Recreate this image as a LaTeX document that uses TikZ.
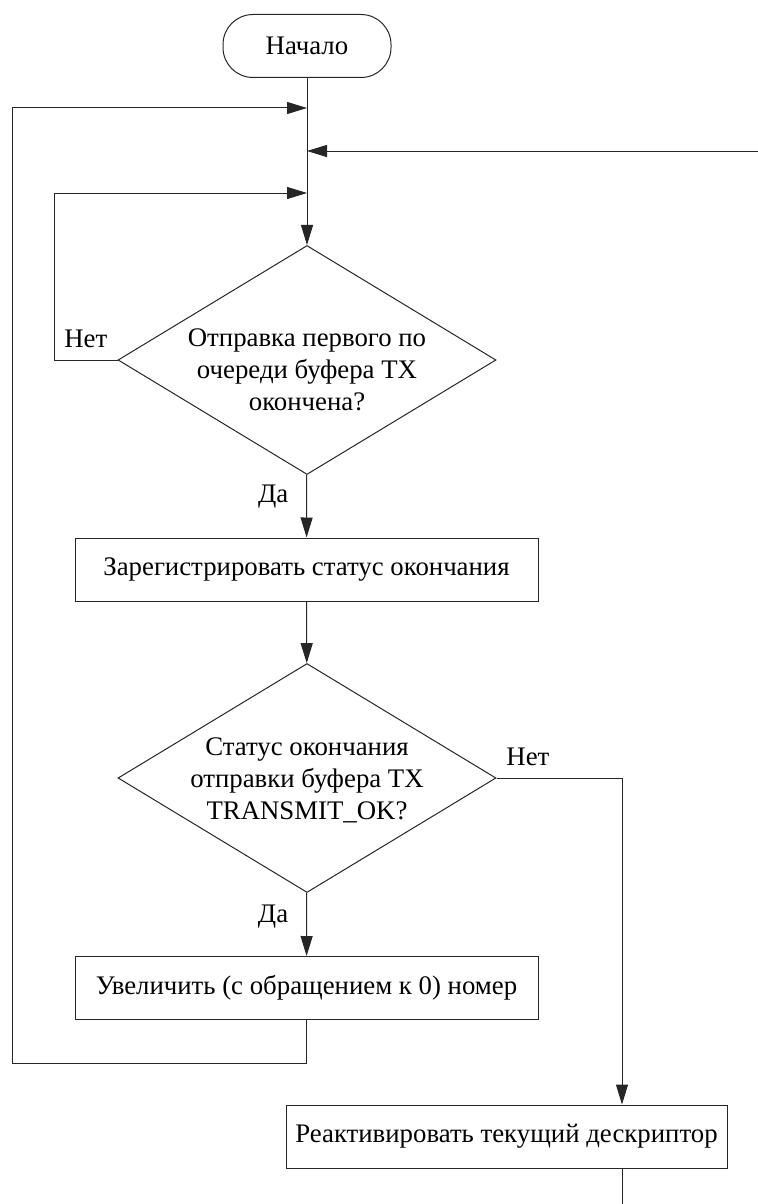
\documentclass[tikz,border=0pt]{standalone}
\usepackage{fontspec}
\setmainfont{Liberation Serif}
\usetikzlibrary{arrows.meta,calc,positioning,shapes.geometric}

\begin{document}
\begin{tikzpicture}[x=0.5pt,y=-0.5pt,
  term/.style={draw=black!85,line width=0.5pt,rounded corners=15pt,
    minimum width=84pt,minimum height=31.5pt,inner sep=1pt,font=\fontsize{13.4pt}{16pt}\selectfont},
  proc/.style={draw=black!85,line width=0.5pt,minimum width=231.5pt,
    minimum height=31.5pt,inner sep=1pt,font=\fontsize{13.4pt}{16pt}\selectfont},
  cond/.style={draw=black!85,line width=0.5pt,diamond,inner sep=0pt,
    minimum width=189pt,minimum height=114.5pt},
  condtext/.style={align=center,inner sep=0pt,font=\fontsize{13.4pt}{16pt}\selectfont},
  lbl/.style={inner sep=1pt,font=\fontsize{13.4pt}{16pt}\selectfont},
  edge/.style={-{Triangle[length=10pt,width=6pt]},line width=0.5pt,draw=black!85},
  wire/.style={line width=0.5pt,draw=black!85}
]
\useasboundingbox (0,0) rectangle (758,1204);

% Start and merge points on the main line.
\node[term] (start) at (307,46) {Начало};
\coordinate (m1) at (307,108);
\coordinate (m3) at (307,151);
\coordinate (m2) at (307,193);
\coordinate (in) at (758,151);

% First check: sending finished?
\node[cond] (d1) at (307,360) {};
\node[condtext] (d1t) at (307,370) {Отправка первого по\\очереди буфера TX\\окончена?};
\node[proc] (b1) at (306.5,569.5) {Зарегистрировать статус окончания};

% Second check: status TRANSMIT_OK?
\node[cond] (d2) at (307,778) {};
\node[condtext] (d2t) at (307,780) {Статус окончания\\отправки буфера TX\\TRANSMIT\_OK?};
\node[proc] (b2) at (306.5,988) {Увеличить (с обращением к 0) номер};
\node[proc,minimum width=220.5pt] (b3) at (506.5,1136.5) {Реактивировать текущий дескриптор};

% Loop corners and free ends.
\coordinate (l2) at (54,360);
\coordinate (c2) at (12,1063);
\coordinate (r1) at (622,778);
\coordinate (out) at (622,1204);

\draw[edge] (start) -- (d1);
\draw[edge] (in) -- (m3);
\draw[edge] (d1.west) -- node[lbl,above=5pt,pos=0.5]{Нет} (l2) |- (m2);
\draw[edge] (d1) -- node[lbl,left=8pt,pos=0.35]{Да} (b1);
\draw[edge] (b1) -- (d2);
\draw[edge] (d2) -- node[lbl,left=8pt,pos=0.38]{Да} (b2);
\draw[edge] (b2.south) |- (c2) |- (m1);
\draw[edge] (d2.east) -- node[lbl,above=5pt,pos=0.25]{Нет} (r1) -- (r1 |- b3.north);
\draw[wire] (out |- b3.south) -- (out);
\end{tikzpicture}
\end{document}
